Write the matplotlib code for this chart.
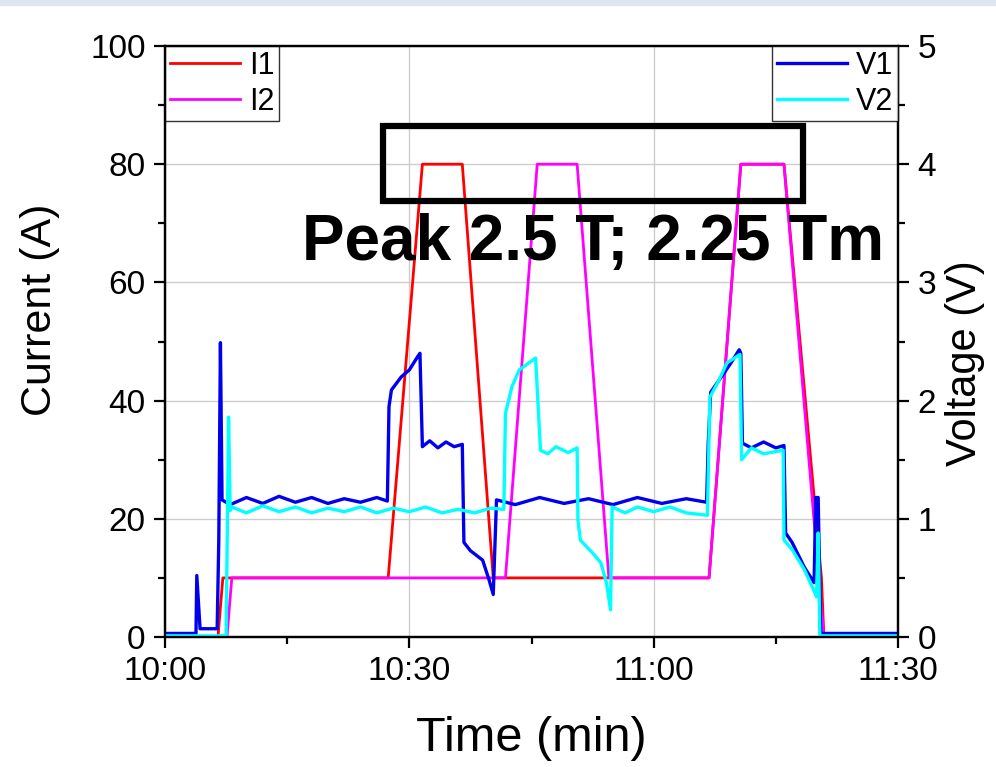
import matplotlib.pyplot as plt
from matplotlib.patches import Rectangle
from matplotlib.ticker import MultipleLocator, FixedLocator, FixedFormatter

plt.rcParams["font.family"] = ["Liberation Sans", "DejaVu Sans"]

# time in minutes after 10:00
i1_t = [0.0, 6.5, 7.1, 27.4, 31.6, 36.5, 40.3, 66.8, 70.7, 76.0, 80.6, 80.9, 88.5]
i1_a = [0.0, 0.0, 10.0, 10.0, 80.0, 80.0, 10.0, 10.0, 80.0, 80.0, 10.0, 0.0, 0.0]

i2_t = [0.0, 7.6, 8.2, 41.8, 45.7, 50.6, 54.5, 66.8, 70.7, 76.0, 80.9, 88.5]
i2_a = [0.0, 0.0, 10.0, 10.0, 80.0, 80.0, 10.0, 10.0, 80.0, 80.0, 0.0, 0.0]

v1_t = [0.2, 3.8, 3.9, 4.3, 6.4, 6.6, 6.8, 7.0, 8.0, 10.0, 12.0, 14.0, 16.0, 18.0,
        20.0, 22.0, 24.0, 26.0, 27.3,
        27.5, 27.8, 29.0, 30.0, 31.0, 31.3, 31.6, 32.5, 33.5, 34.5, 35.5, 36.5,
        36.7, 37.5, 39.0, 39.8, 40.3, 40.7, 43.0, 46.0, 49.0, 52.0, 55.0, 58.0,
        61.0, 64.0, 66.5, 66.7, 67.0, 68.0, 69.5, 70.5, 70.7, 70.9, 72.0, 73.5,
        75.0, 76.0, 76.2, 77.0, 78.5, 79.7, 79.9, 80.2, 80.5, 85.0, 90.0]
v1_v = [0.03, 0.03, 0.52, 0.07, 0.07, 0.82, 2.49, 1.16, 1.12, 1.18, 1.13, 1.19, 1.14,
        1.18, 1.13, 1.17, 1.14, 1.18, 1.15,
        1.95, 2.09, 2.20, 2.26, 2.37, 2.40, 1.61, 1.66, 1.60, 1.65, 1.61, 1.63,
        0.80, 0.73, 0.65, 0.48, 0.36, 1.16, 1.12, 1.18, 1.13, 1.17, 1.12, 1.18,
        1.13, 1.17, 1.14, 1.64, 2.07, 2.17, 2.32, 2.43, 2.40, 1.64, 1.60, 1.65,
        1.60, 1.62, 0.88, 0.80, 0.59, 0.46, 1.18, 1.18, 0.03, 0.03, 0.03]

v2_t = [0.0, 7.5, 7.8, 8.0, 8.2, 10.0, 12.0, 14.0, 16.0, 18.0, 20.0, 22.0, 24.0,
        26.0, 28.0, 30.0, 32.0, 34.0, 36.0, 38.0, 40.0, 41.6, 41.8, 42.6, 43.5,
        45.5, 46.1, 47.0, 48.0, 49.5, 50.6, 50.7, 51.0, 52.5, 53.5, 54.2, 54.7,
        54.9, 56.5, 58.0, 60.0, 62.0, 64.0, 66.6, 66.9, 68.0, 69.0, 70.6, 70.8,
        72.0, 73.5, 75.9, 76.0, 77.0, 78.5, 79.5, 80.0, 80.2, 80.4, 85.0, 90.0]
v2_v = [0.01, 0.01, 1.86, 1.07, 1.10, 1.05, 1.11, 1.06, 1.10, 1.05, 1.09, 1.06, 1.10,
        1.05, 1.09, 1.06, 1.10, 1.05, 1.08, 1.05, 1.09, 1.08, 1.89, 2.12, 2.26,
        2.36, 1.58, 1.55, 1.61, 1.56, 1.60, 0.99, 0.82, 0.71, 0.63, 0.46, 0.23,
        1.10, 1.05, 1.10, 1.06, 1.10, 1.05, 1.03, 2.03, 2.17, 2.32, 2.39, 1.50,
        1.60, 1.55, 1.58, 0.82, 0.74, 0.57, 0.42, 0.34, 0.88, 0.01, 0.01, 0.01]

x_ticks = [0, 30, 60, 90]
x_labels = ["10:00", "10:30", "11:00", "11:30"]

fig = plt.figure(figsize=(9.96, 7.67), dpi=100)
ax = fig.add_axes([0.1657, 0.1695, 0.7359, 0.7705])
ax2 = ax.twinx()

ax.plot(i1_t, i1_a, color="#ff0000", lw=2.0, label="I1", zorder=3)
ax.plot(i2_t, i2_a, color="#ff00ff", lw=2.0, label="I2", zorder=4)
ax2.plot(v1_t, v1_v, color="#0000ee", lw=2.4, label="V1")
ax2.plot(v2_t, v2_v, color="#00ffff", lw=2.4, label="V2")

ax.set_xlim(0, 90)
ax.set_ylim(0, 100)
ax2.set_ylim(0, 5)

ax.xaxis.set_major_locator(FixedLocator(x_ticks))
ax.xaxis.set_major_formatter(FixedFormatter(x_labels))
ax.xaxis.set_minor_locator(MultipleLocator(15))
ax.yaxis.set_major_locator(MultipleLocator(20))
ax.yaxis.set_minor_locator(MultipleLocator(10))
ax2.yaxis.set_major_locator(MultipleLocator(1))
ax2.yaxis.set_minor_locator(MultipleLocator(0.5))

ax.grid(True, which="major", color="#cccccc", lw=1.0)
ax.set_axisbelow(True)

for a in (ax, ax2):
    for s in a.spines.values():
        s.set_linewidth(1.6)
    a.tick_params(which="major", direction="out", length=8, width=1.6,
                  labelsize=24, pad=6)
    a.tick_params(which="minor", direction="out", length=5, width=1.6)

ax.set_xlabel("Time (min)", fontsize=35)
ax.xaxis.set_label_coords(0.5, -0.134)
ax.set_ylabel("Current (A)", fontsize=31)
ax.yaxis.set_label_coords(-0.143, 0.553)
ax2.set_ylabel("Voltage (V)", fontsize=30)
ax2.yaxis.set_label_coords(1.064, 0.464)

leg_kw = dict(fontsize=22, frameon=True, fancybox=False, edgecolor="black",
              handlelength=2.3, borderaxespad=0, borderpad=0.15,
              labelspacing=0.2, handletextpad=0.3)
leg1 = ax.legend(loc="upper left", **leg_kw)
leg1.get_frame().set_linewidth(1.0)
leg1.set_zorder(10)
leg2 = ax2.legend(loc="upper right", **leg_kw)
leg2.get_frame().set_linewidth(1.0)

ax2.add_patch(Rectangle((26.8, 73.8 / 20), 51.5, 12.7 / 20, fill=False,
                        edgecolor="black", lw=4.5, zorder=6))
ax2.text(16.8, 63.8 / 20, "Peak 2.5 T; 2.25 Tm", fontsize=46, fontweight="bold",
         va="baseline", ha="left", zorder=7)

fig.patches.append(Rectangle((0, 0.994), 1, 0.006, transform=fig.transFigure,
                             color="#dde6ee", zorder=0))

fig.savefig("out.png", dpi=100)
